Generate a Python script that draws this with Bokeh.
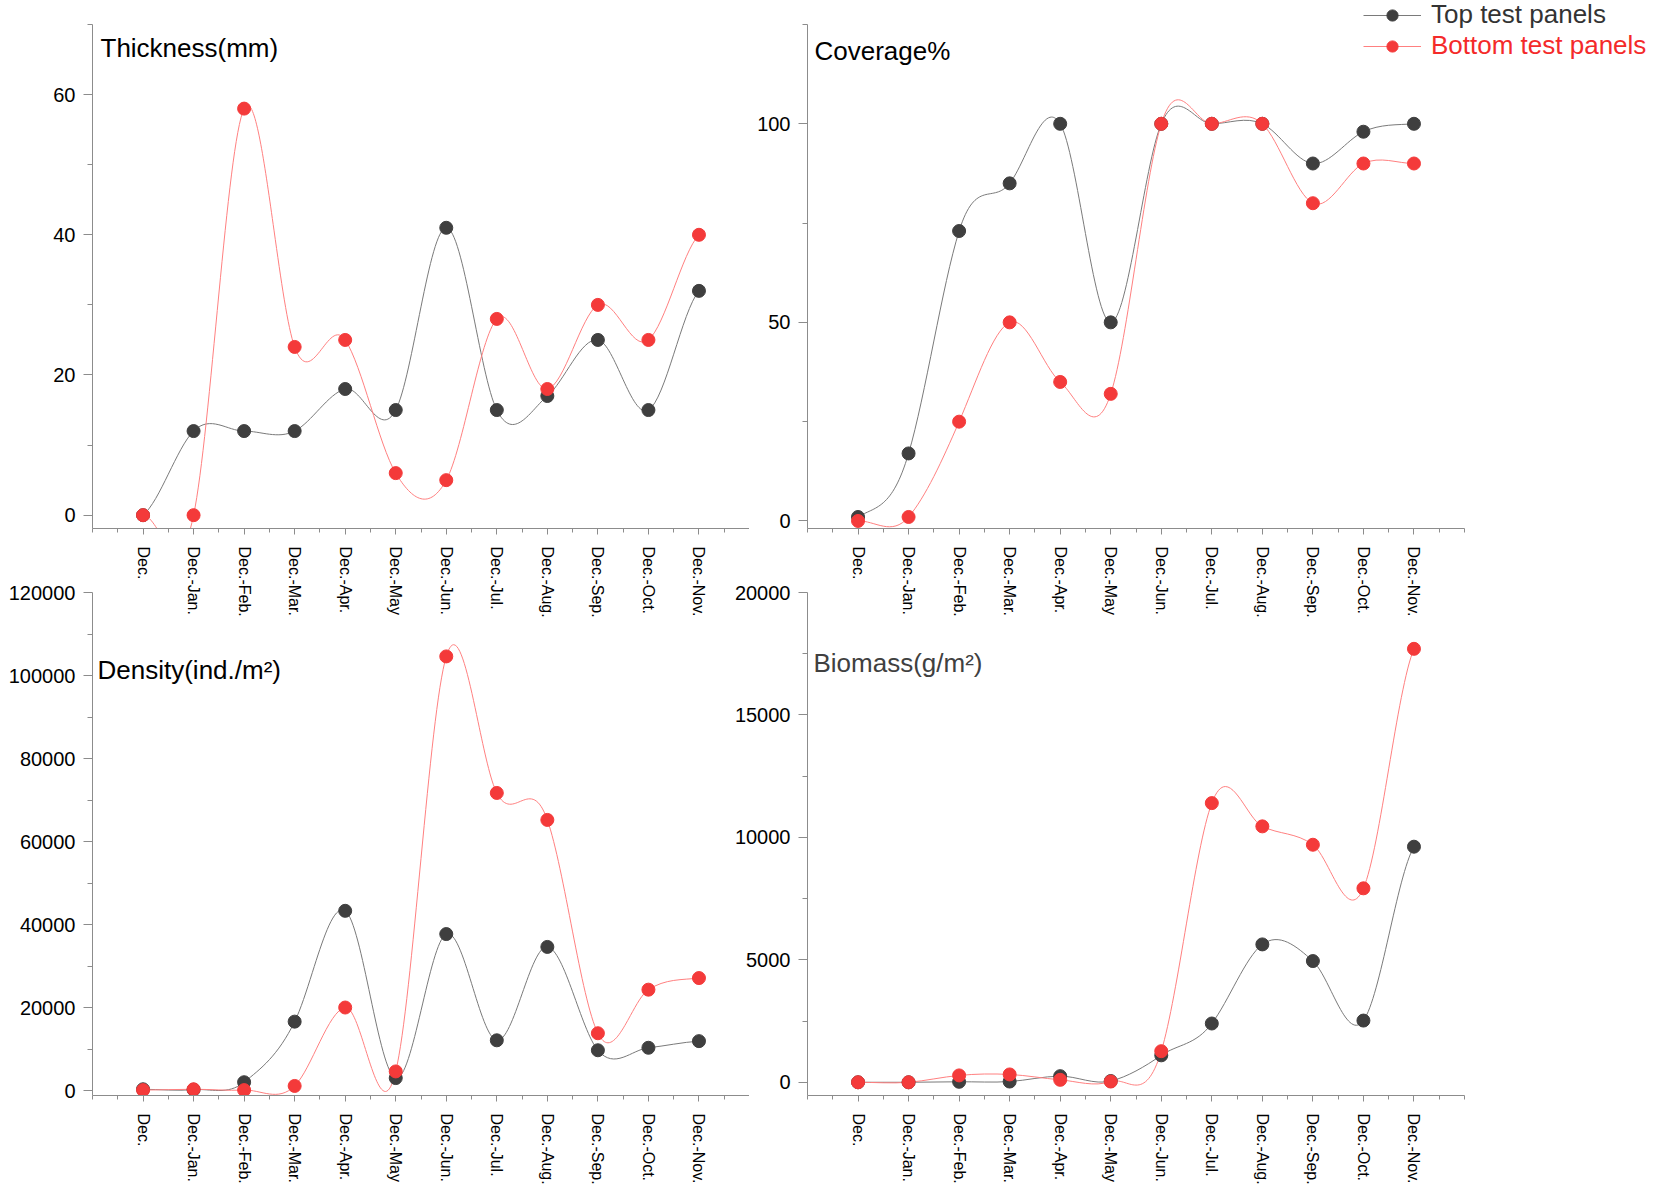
import math
from bokeh.plotting import figure
from bokeh.layouts import row, column
from bokeh.models import (FixedTicker, NumeralTickFormatter, Label, Legend,
                          LegendItem, Range1d)
from bokeh.embed import file_html
from bokeh.resources import INLINE

# ---------------- data ----------------
categories = ["Dec.", "Dec.-Jan.", "Dec.-Feb.", "Dec.-Mar.", "Dec.-Apr.", "Dec.-May",
              "Dec.-Jun.", "Dec.-Jul.", "Dec.-Aug.", "Dec.-Sep.", "Dec.-Oct.", "Dec.-Nov."]

thick_top = [0, 12, 12, 12, 18, 15, 41, 15, 17, 25, 15, 32]
thick_bot = [0, 0, 58, 24, 25, 6, 5, 28, 18, 30, 25, 40]
cov_top = [1, 17, 73, 85, 100, 50, 100, 100, 100, 90, 98, 100]
cov_bot = [0, 1, 25, 50, 35, 32, 100, 100, 100, 80, 90, 90]
dens_top = [300, 200, 2000, 16600, 43300, 3000, 37700, 12100, 34600, 9700, 10300, 11900]
dens_bot = [100, 300, 100, 1100, 20000, 4600, 104600, 71700, 65200, 13800, 24300, 27100]
bio_top = [0, 0, 20, 30, 250, 50, 1100, 2400, 5630, 4950, 2520, 9620]
bio_bot = [0, 0, 280, 320, 100, 30, 1270, 11400, 10450, 9700, 7920, 17700]

series_names = ["Top test panels", "Bottom test panels"]

FONT = "Liberation Sans"
AX = "#8c8c8c"
TOP_LINE, TOP_MARK = "#7a7a7a", "#3f3f3f"
BOT_LINE, BOT_MARK = "#ff8080", "#f43a3a"
TENSION = 1.2

xs = list(range(len(categories)))


def spline(ys):
    """Cardinal spline expressed as cubic Bezier segments (control points from data)."""
    n = len(ys)
    m = []
    for i in range(n):
        if i == 0:
            m.append((ys[1] - ys[0]) * 0.5)
        elif i == n - 1:
            m.append((ys[-1] - ys[-2]) * 0.5)
        else:
            m.append(TENSION * (ys[i + 1] - ys[i - 1]) / 2.0)
    return dict(
        x0=xs[:-1], y0=ys[:-1], x1=xs[1:], y1=ys[1:],
        cx0=[x + 1 / 3 for x in xs[:-1]], cy0=[ys[i] + m[i] / 3 for i in range(n - 1)],
        cx1=[x - 1 / 3 for x in xs[1:]], cy1=[ys[i + 1] - m[i + 1] / 3 for i in range(n - 1)],
    )


def make_panel(width, height, lb, rb, tb, bb, yr, yticks, yminor, title, tx, ty,
               title_color, top, bot):
    p = figure(width=width, height=height, x_range=Range1d(-1, 12), y_range=Range1d(*yr),
               output_backend="svg", toolbar_location=None, title=None,
               min_border_left=lb, min_border_right=rb, min_border_top=tb,
               min_border_bottom=bb, background_fill_color=None, border_fill_color=None,
               outline_line_color=None)
    p.xgrid.visible = False
    p.ygrid.visible = False

    xa = p.xaxis[0]
    xa.ticker = FixedTicker(ticks=xs, minor_ticks=[-1 + 0.5 * k for k in range(27)])
    xa.major_label_overrides = {i: c for i, c in enumerate(categories)}
    xa.major_label_orientation = -math.pi / 2
    xa.major_label_text_font = FONT
    xa.major_label_text_font_size = "16px"
    xa.major_label_text_color = "#000000"
    xa.major_label_standoff = 12
    xa.major_tick_out = 6
    xa.major_tick_in = 0
    xa.minor_tick_out = 4
    xa.minor_tick_in = 0

    ya = p.yaxis[0]
    ya.ticker = FixedTicker(ticks=yticks, minor_ticks=yminor)
    ya.formatter = NumeralTickFormatter(format="0")
    ya.major_label_text_font = FONT
    ya.major_label_text_font_size = "20px"
    ya.major_label_text_color = "#000000"
    ya.major_label_standoff = 8
    ya.major_tick_out = 9
    ya.major_tick_in = 0
    ya.minor_tick_out = 5
    ya.minor_tick_in = 0

    for a in (xa, ya):
        a.axis_line_color = AX
        a.major_tick_line_color = AX
        a.minor_tick_line_color = AX

    p.bezier(line_color=TOP_LINE, line_width=1, **spline(top))
    p.bezier(line_color=BOT_LINE, line_width=1, **spline(bot))
    p.scatter(xs, top, size=13, marker="circle", fill_color=TOP_MARK, line_color=TOP_MARK)
    p.scatter(xs, bot, size=13, marker="circle", fill_color=BOT_MARK, line_color=BOT_MARK)

    p.add_layout(Label(x=tx, y=ty, x_units="screen", y_units="screen", text=title,
                       text_font=FONT, text_font_size="26px", text_color=title_color,
                       text_baseline="alphabetic", text_align="left"))
    return p


p1 = make_panel(749, 628, 92, 0, 24, 100, (-1.9, 70), [0, 20, 40, 60], [10, 30, 50, 70],
                "Thickness(mm)", 8, 481, "#000000", thick_top, thick_bot)
p2 = make_panel(905, 628, 58, 190, 24, 100, (-1.9, 125), [0, 50, 100],
                [25, 75, 125], "Coverage%", 7, 478, "#000000", cov_top, cov_bot)
p3 = make_panel(749, 615, 92, 0, 20, 90, (-1200, 120000),
                [0, 20000, 40000, 60000, 80000, 100000, 120000],
                [10000, 30000, 50000, 70000, 90000, 110000],
                "Density(ind./m²)", 5, 426, "#000000", dens_top, dens_bot)
p4 = make_panel(845, 615, 88, 100, 20, 90, (-540, 20000),
                [0, 5000, 10000, 15000, 20000], [2500, 7500, 12500, 17500],
                "Biomass(g/m²)", 6, 433, "#404040", bio_top, bio_bot)

# legend overlay: a transparent plot laid across the top-right corner of the Coverage panel;
# its ranges keep its proxy renderers out of view, only the legend is seen
pl = figure(width=304, height=64, x_range=Range1d(-100, -99), y_range=Range1d(-100, -99),
            x_axis_location=None, y_axis_location=None, min_border=0,
            min_border_left=0, min_border_right=0, min_border_top=0, min_border_bottom=0,
            toolbar_location=None, output_backend="svg", title=None,
            background_fill_color=None, border_fill_color=None, outline_line_color=None)
pl.grid.grid_line_color = None
lt = pl.line(xs, cov_top, line_color=TOP_LINE, line_width=1)
mt = pl.scatter(xs, cov_top, size=13, marker="circle", fill_color=TOP_MARK, line_color=TOP_MARK)
lb_ = pl.line(xs, cov_bot, line_color=BOT_LINE, line_width=1)
mb = pl.scatter(xs, cov_bot, size=13, marker="circle", fill_color=BOT_MARK, line_color=BOT_MARK)

for items, loc, col in (([LegendItem(label=series_names[0], renderers=[lt, mt])], (13, 34), "#333333"),
                        ([LegendItem(label=series_names[1], renderers=[lb_, mb])], (13, 3), "#f42a2a")):
    lg = Legend(items=items, location=loc, padding=0, spacing=0, margin=0,
                glyph_width=58, glyph_height=28, label_height=28, label_standoff=10,
                label_text_font=FONT, label_text_font_size="26px", label_text_color=col,
                background_fill_alpha=0, border_line_alpha=0)
    pl.add_layout(lg, "center")

p4.margin = (0, 0, 0, -30)
layout = column(row(p1, p2, column(pl, margin=(0, 0, 0, -304))),
                row(p3, p4, margin=(-56, 0, 0, 0)))

open("out.html", "w").write(file_html(layout, INLINE))
